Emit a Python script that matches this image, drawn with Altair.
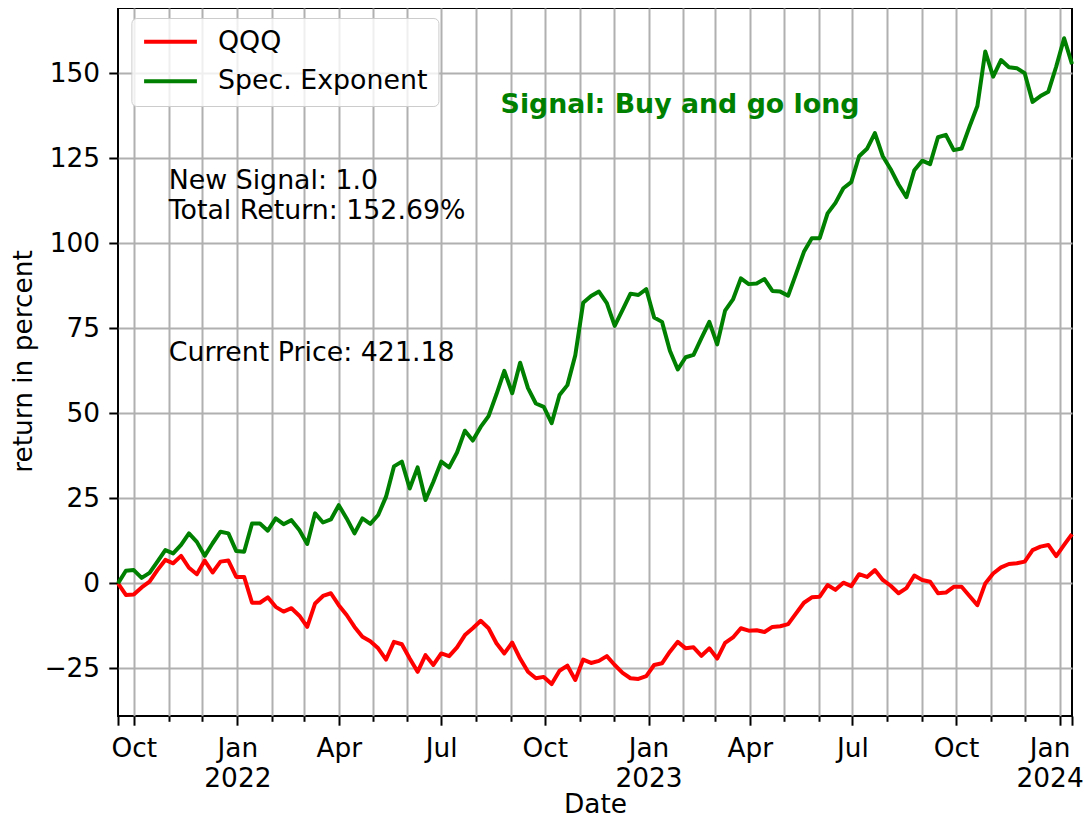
import altair as alt
import pandas as pd

# ---- data (weekly) ----
start_date = "2021-09-17"
end_date = "2024-01-12"
series_names = ["QQQ", "Spec. Exponent"]
series_colors = ["#ff0000", "#008000"]

qqq = [0.0, -3.4, -3.3, -1.2, 0.5, 3.9, 6.9, 5.9, 8.1, 4.6,
       2.7, 6.7, 3.2, 6.4, 6.7, 1.9, 1.9, -5.7, -5.7, -4.1,
       -6.9, -8.3, -7.3, -9.5, -12.8, -5.9, -3.7, -2.9, -6.4, -9.3,
       -12.8, -15.7, -17.0, -19.1, -22.4, -17.2, -17.9, -22.1, -26.0, -21.1,
       -24.0, -20.6, -21.4, -18.8, -15.2, -13.2, -11.0, -13.2, -17.6, -20.6,
       -17.4, -22.1, -26.0, -27.9, -27.5, -29.6, -25.7, -24.2, -28.4, -22.4,
       -23.4, -22.8, -21.4, -24.0, -26.3, -27.9, -28.1, -27.3, -24.0, -23.5,
       -20.1, -17.2, -19.1, -18.8, -21.3, -19.1, -22.1, -17.5, -15.9, -13.2,
       -13.9, -13.8, -14.3, -12.8, -12.6, -12.0, -8.8, -5.7, -4.1, -3.9,
       -0.5, -1.9, 0.2, -0.8, 2.7, 1.9, 3.9, 1.0, -0.7, -2.9,
       -1.4, 2.3, 1.0, 0.5, -2.9, -2.7, -1.0, -1.0, -3.7, -6.4,
       0.0, 2.9, 4.7, 5.7, 5.9, 6.4, 9.8, 10.8, 11.3, 8.0,
       11.3, 14.5]

spec_exp = [0.0, 3.7, 3.9, 1.6, 3.1, 6.4, 9.8, 8.8, 11.3, 14.7,
            12.2, 8.1, 11.8, 15.2, 14.7, 9.5, 9.3, 17.6, 17.6, 15.5,
            19.1, 17.4, 18.6, 15.7, 11.6, 20.6, 17.9, 18.8, 23.0, 19.1,
            14.7, 19.1, 17.5, 20.1, 25.5, 34.4, 35.8, 27.9, 34.1, 24.5,
            29.9, 35.8, 34.1, 38.5, 44.9, 42.0, 46.0, 49.2, 55.6, 62.5,
            55.9, 64.9, 57.4, 52.9, 51.9, 47.1, 55.4, 58.3, 67.1, 82.5,
            84.5, 85.8, 82.4, 75.7, 80.4, 85.2, 84.8, 86.5, 78.2, 76.9,
            68.4, 62.9, 66.5, 67.2, 72.1, 76.9, 70.3, 80.2, 83.5, 89.7,
            88.0, 88.2, 89.5, 86.0, 85.8, 84.6, 91.0, 97.5, 101.5, 101.5,
            108.8, 111.9, 116.2, 118.0, 125.6, 127.8, 132.4, 125.6, 121.8, 117.3,
            113.6, 121.5, 124.3, 123.3, 131.2, 131.9, 127.4, 127.9, 134.3, 140.4,
            156.4, 149.0, 153.9, 151.8, 151.5, 150.0, 141.6, 143.3, 144.6, 152.0,
            160.3, 152.7]

y_ticks = [-25, 0, 25, 50, 75, 100, 125, 150]

annot_text = ["New Signal: 1.0", "Total Return: 152.69%", "Current Price: 421.18"]
annot_fx = [0.05, 0.05, 0.05]      # axes fraction
annot_fy = [0.7, 0.7, 0.5]         # axes fraction (baseline of last line)
annot_dy = [-30, 0, 0]             # line offset
signal_text = "Signal: Buy and go long"

# ---- layout ----
W, H = 954, 708
AXH = 710  # original axes height (top is cut by 2px)
FS = 26.4
FS_T = 26.8

n = len(qqq)
dates = pd.date_range(start_date, periods=n, freq="7D")
df = pd.DataFrame({
    "Date": list(dates) * 2,
    "value": qqq + spec_exp,
    "series": [series_names[0]] * n + [series_names[1]] * n,
})

months = pd.date_range("2021-10-01", "2024-01-01", freq="MS")
tick_dates = [pd.Timestamp(start_date)] + list(months) + [pd.Timestamp(end_date)]
x_ticks = [alt.DateTime(year=d.year, month=d.month, date=d.day) for d in tick_dates]

is_major = "(date(datum.value) != 1) || (month(datum.value) % 3 == 0)"
is_end = "date(datum.value) != 1"

x_axis = alt.Axis(
    values=x_ticks,
    title="Date",
    titleX=W / 2, titleY=96, titleBaseline="alphabetic", titleAlign="center",
    labelExpr=("(date(datum.value) == 1 && month(datum.value) % 3 == 0) ? "
               "[timeFormat(datum.value, '%b'), month(datum.value) == 0 ? timeFormat(datum.value, '%Y') : ''] : ''"),
    labelBaseline="top", labelLineHeight=30, labelPadding=10,
    labelOverlap=False, labelFlush=False, labelBound=False,
    labelOffset={"condition": {"test": "year(datum.value) == 2024", "value": -10}, "value": 0},
    tickSize={"condition": {"test": is_major, "value": 9.2}, "value": 5.3},
    gridOpacity={"condition": {"test": is_end, "value": 0}, "value": 1},
    grid=True, domain=False,
)

y_axis = alt.Axis(
    values=y_ticks,
    title="return in percent",
    titleX=-87, titleY=353, titleBaseline="alphabetic", titleAlign="center", titleAngle=270,
    labelExpr="replace(datum.label, '-', '\u2212')",
    labelPadding=9.2, tickSize=9.2,
    grid=True, domain=False,
)

lines = alt.Chart(df).mark_line(strokeWidth=4, strokeJoin="round").encode(
    x=alt.X("Date:T", scale=alt.Scale(domain=[alt.DateTime(year=2021, month=9, date=17),
                                              alt.DateTime(year=2024, month=1, date=12)], nice=False),
            axis=x_axis),
    y=alt.Y("value:Q", scale=alt.Scale(domain=[-39.0, 169.2], nice=False, zero=False), axis=y_axis),
    color=alt.Color("series:N",
                    scale=alt.Scale(domain=series_names, range=series_colors),
                    sort=series_names,
                    legend=alt.Legend(title=None, orient="none", legendX=13.4, legendY=10,
                                      symbolType="stroke", symbolSize=2790, symbolStrokeWidth=4,
                                      clipHeight=FS, rowPadding=12.5,
                                      labelFontSize=FS_T, labelOffset=19, labelColor="black",
                                      labelLimit=0,
                                      padding=10.6, fillColor="rgba(255,255,255,0.8)",
                                      strokeColor="#cccccc", cornerRadius=5)),
    order=alt.Order("series:N"),
)

ann_df = pd.DataFrame({
    "label": annot_text,
    "px": [fx * W + 3 for fx in annot_fx],
    "py": [H - fy * AXH + dy for fy, dy in zip(annot_fy, annot_dy)],
})
annots = alt.Chart(ann_df).mark_text(align="left", baseline="alphabetic", fontSize=FS_T,
                                     color="black", font="DejaVu Sans").encode(
    x=alt.X("px:Q", scale=None), y=alt.Y("py:Q", scale=None), text="label:N")

sig_df = pd.DataFrame({"label": [signal_text], "px": [0.4 * W + 1], "py": [H - 0.85 * AXH]})
signal = alt.Chart(sig_df).mark_text(align="left", baseline="alphabetic", fontSize=FS_T,
                                     fontWeight="bold", color="#008000", font="DejaVu Sans").encode(
    x=alt.X("px:Q", scale=None), y=alt.Y("py:Q", scale=None), text="label:N")

chart = alt.layer(lines, annots, signal).properties(
    width=W, height=H,
    autosize=alt.AutoSizeParams(type="none"),
    padding={"left": 110, "top": 0, "right": 11, "bottom": 103},
    background="white",
).configure(font="DejaVu Sans").configure_view(
    stroke="black", strokeWidth=2
).configure_axis(
    labelFont="DejaVu Sans", labelFontSize=FS, labelColor="black",
    titleFont="DejaVu Sans", titleFontSize=FS, titleFontWeight="normal", titleColor="black",
    tickColor="black", tickWidth=2,
    gridColor="#b0b0b0", gridWidth=2,
).configure_legend(labelFont="DejaVu Sans")

chart.save("out.html", embed_options={"renderer": "svg", "actions": False})
